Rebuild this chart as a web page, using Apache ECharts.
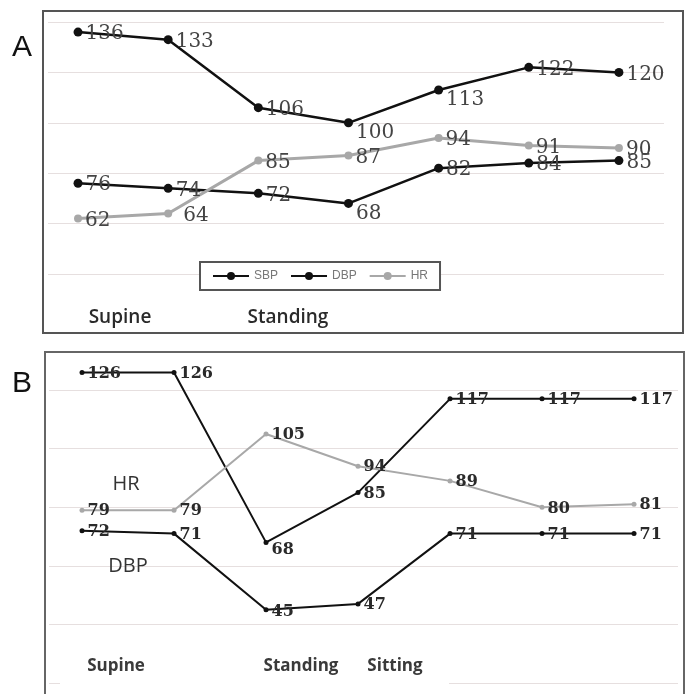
<!DOCTYPE html>
<html><head><meta charset="utf-8">
<script src="https://cdn.jsdelivr.net/npm/echarts@6/dist/echarts.min.js"></script>
<style>html,body{margin:0;padding:0;background:#fff}#c{width:689px;height:694px}</style>
</head><body><div id="c"></div>
<script>
// ---- data ----
const timePoints = [1, 2, 3, 4, 5, 6, 7];
const sbpA = [136, 133, 106, 100, 113, 122, 120];
const dbpA = [76, 74, 72, 68, 82, 84, 85];
const hrA  = [62, 64, 85, 87, 94, 91, 90];
const sbpB = [126, 126, 68, 85, 117, 117, 117];
const hrB  = [79, 79, 105, 94, 89, 80, 81];
const dbpB = [72, 71, 45, 47, 71, 71, 71];
const yTicksA = [40, 60, 80, 100, 120, 140];
const yTicksB = [20, 40, 60, 80, 100, 120];
const phaseLabelsA = ['Supine', 'Standing'];
const phaseLabelsB = ['Supine', 'Standing', 'Sitting'];
const seriesNames = ['SBP', 'DBP', 'HR'];

// ---- helpers ----
function mk(arr, tweaks) {
  tweaks = tweaks || {};
  return arr.map((v, i) => {
    const item = { value: [timePoints[i] - 1, v] };
    if (tweaks[i]) item.label = { offset: tweaks[i] };
    return item;
  });
}
const labA = { show: true, position: 'right', distance: 3, offset: [0, 2],
  fontFamily: 'DejaVu Serif', fontSize: 20, color: '#444' };
const labB = { show: true, position: 'right', distance: 3, offset: [0, 1],
  fontFamily: 'DejaVu Serif', fontWeight: 'bold', fontSize: 16, color: '#2a2a2a' };
const hidden = { axisLine: { show: false }, axisTick: { show: false }, axisLabel: { show: false } };
const split = { show: true, lineStyle: { color: '#e6dfdf', width: 1.2 } };

function lineA(name, data, color, w, sz, tweaks) {
  return { name, type: 'line', xAxisIndex: 0, yAxisIndex: 0, data: mk(data, tweaks),
    symbol: 'circle', symbolSize: sz, itemStyle: { color },
    lineStyle: { color, width: w }, label: labA, z: 3 };
}
function lineB(name, data, color, w, sz, tweaks) {
  return { name, type: 'line', xAxisIndex: 1, yAxisIndex: 1, data: mk(data, tweaks),
    symbol: 'circle', symbolSize: sz, itemStyle: { color },
    lineStyle: { color, width: w }, label: labB, z: 3 };
}
function txt(t, x, y, size, weight, color) {
  return { type: 'text', z: 50, style: { text: t, x, y, fill: color || '#222',
    font: (weight || 'normal') + ' ' + size + 'px "Open Sans", "Liberation Sans", sans-serif',
    textAlign: 'center', textVerticalAlign: 'middle' } };
}

const chart = echarts.init(document.getElementById('c'));
chart.setOption({
  animation: false,
  backgroundColor: '#fff',
  grid: [
    { left: 48, right: 25, top: 22, height: 252 },
    { left: 49, right: 11, top: 352, height: 331 }
  ],
  xAxis: [
    Object.assign({ type: 'value', gridIndex: 0, min: -0.333, max: 6.5, splitLine: { show: false } }, hidden),
    Object.assign({ type: 'value', gridIndex: 1, min: -0.359, max: 6.478, splitLine: { show: false } }, hidden)
  ],
  yAxis: [
    Object.assign({ type: 'value', gridIndex: 0, min: yTicksA[0], max: yTicksA[yTicksA.length - 1],
      interval: yTicksA[1] - yTicksA[0], splitLine: split }, hidden),
    Object.assign({ type: 'value', gridIndex: 1, min: yTicksB[0], max: 133,
      interval: yTicksB[1] - yTicksB[0], splitLine: split }, hidden)
  ],
  legend: {
    data: seriesNames, left: 200, top: 262, orient: 'horizontal',
    backgroundColor: '#fff', borderColor: '#555', borderWidth: 2, borderRadius: 0,
    padding: [8, 12], itemGap: 12, itemWidth: 36, itemHeight: 10,
    textStyle: { color: '#777', fontSize: 12, fontFamily: '"Liberation Sans Narrow", "Liberation Sans", sans-serif' },
    z: 20
  },
  series: [
    lineA(seriesNames[0], sbpA, '#111', 2.5, 9, { 3: [0, 10], 4: [0, 10] }),
    lineA(seriesNames[1], dbpA, '#111', 2.5, 9, { 3: [0, 10] }),
    lineA(seriesNames[2], hrA, '#a8a8a8', 3, 8, { 1: [8, 2] }),
    lineB('SBP-B', sbpB, '#111', 2, 5, { 2: [0, 7] }),
    lineB('HR-B', hrB, '#a8a8a8', 2, 5, { 5: [0, 2] }),
    lineB('DBP-B', dbpB, '#111', 2, 5, { 2: [0, 2] })
  ],
  graphic: [
    { type: 'rect', z: 40, shape: { x: 43, y: 11, width: 640, height: 322 },
      style: { fill: 'none', stroke: '#555', lineWidth: 2 } },
    { type: 'rect', z: 40, shape: { x: 45, y: 352, width: 639, height: 380 },
      style: { fill: 'none', stroke: '#666', lineWidth: 2 } },
    { type: 'rect', z: 30, shape: { x: 60, y: 679, width: 389, height: 8 },
      style: { fill: '#fff' } },
    { type: 'text', z: 50, style: { text: 'A', x: 12, y: 48, fill: '#111',
      font: '30px "Liberation Sans", sans-serif', textAlign: 'left', textVerticalAlign: 'middle' } },
    { type: 'text', z: 50, style: { text: 'B', x: 12, y: 384, fill: '#111',
      font: '30px "Liberation Sans", sans-serif', textAlign: 'left', textVerticalAlign: 'middle' } },
    txt(phaseLabelsA[0], 120, 318, 19, '600', '#2a2a2a'),
    txt(phaseLabelsA[1], 288, 318, 19, '600', '#2a2a2a'),
    txt(phaseLabelsB[0], 116, 666, 17, 'bold', '#3a3a3a'),
    txt(phaseLabelsB[1], 301, 666, 17, 'bold', '#3a3a3a'),
    txt(phaseLabelsB[2], 395, 666, 17, 'bold', '#3a3a3a'),
    txt('HR', 126, 484, 20, 'normal', '#333'),
    txt('DBP', 128, 566, 20, 'normal', '#333')
  ]
});
</script></body></html>
